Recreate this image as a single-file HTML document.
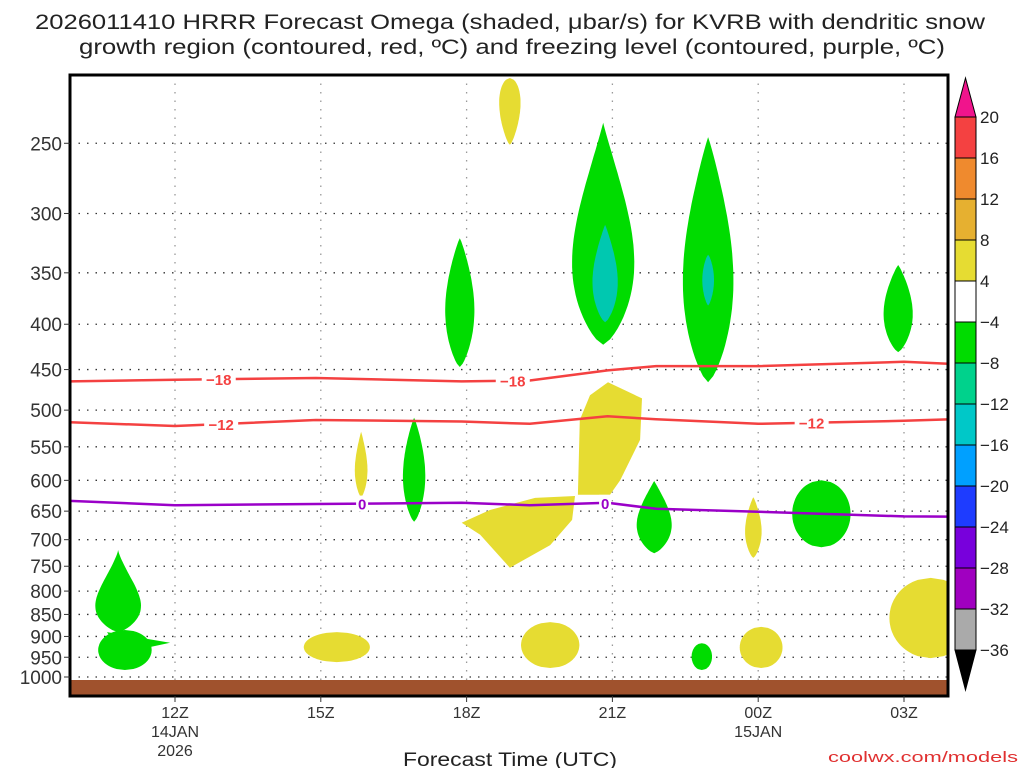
<!DOCTYPE html>
<html><head><meta charset="utf-8"><style>
body{margin:0;background:#fff;}
svg{display:block;font-family:"Liberation Sans",sans-serif;}
</style></head><body>
<svg id="chart" width="1024" height="768" viewBox="0 0 1024 768">
<text x="510" y="29" text-anchor="middle" font-size="21" fill="#222" textLength="950" lengthAdjust="spacingAndGlyphs">2026011410 HRRR Forecast Omega (shaded, μbar/s) for KVRB with dendritic snow</text>
<text x="512" y="54" text-anchor="middle" font-size="21" fill="#222" textLength="866" lengthAdjust="spacingAndGlyphs">growth region (contoured, red, ºC) and freezing level (contoured, purple, ºC)</text>
<g id="plot"></g>
<text x="510" y="766" text-anchor="middle" font-size="19" fill="#222" textLength="214" lengthAdjust="spacingAndGlyphs">Forecast Time (UTC)</text>
<text x="1018" y="762" text-anchor="end" font-size="15" fill="#e03030" textLength="190" lengthAdjust="spacingAndGlyphs">coolwx.com/models</text>
</svg>
<script>
const yTicks=[250,300,350,400,450,500,550,600,650,700,750,800,850,900,950,1000];
const xTickHours=[12,15,18,21,24,27];
const xTickLabels=["12Z","15Z","18Z","21Z","00Z","03Z"];
const contourHours=[9.84,12,14.9,17.9,19.3,20.9,21.9,24,27,28.98];
const c18=[464,462,460,464,463,451,446,446,441,446];
const c12=[516,521,513,515,518,508,512,518,514,510];
const c0=[633,640,638,636,640,636,646,651,659,660];
const cbLevels=[20,16,12,8,4,-4,-8,-12,-16,-20,-24,-28,-32,-36];
const cbColors=["#f44141","#ef8a2e","#e6b030","#e6dc32","#ffffff","#00dc00","#00d28c","#00c8c8","#00a0ff","#1e3cff","#7800dc","#a000c0","#aaaaaa"];
// blobs: [centerHour, pTop, pBottom, halfWidthHours, color, shape(0=ellipse, k=teardrop skew)]
const blobs=[
[10.83,719,890,0.47,"#00dc00",1.8],[10.97,885,982,0.55,"#00dc00",0],
[18.89,211,251,0.22,"#e6dc32",0.7],[17.86,320,447,0.3,"#00dc00",1.2],
[20.81,237,422,0.64,"#00dc00",1.5],[20.85,309,398,0.26,"#00c8b0",1.3],
[22.97,246,465,0.52,"#00dc00",1.3],[22.97,334,381,0.12,"#00c8b0",1.0],
[26.88,343,430,0.3,"#00dc00",1.2],[15.83,529,627,0.13,"#e6dc32",1.3],
[16.92,510,668,0.23,"#00dc00",1.2],[21.86,601,725,0.36,"#00dc00",1.4],
[23.9,627,734,0.17,"#e6dc32",1.2],[25.3,600,714,0.6,"#00dc00",0],
[27.55,773,952,0.85,"#e6dc32",0],[15.33,890,962,0.68,"#e6dc32",0],
[19.72,867,977,0.6,"#e6dc32",0],[22.84,916,982,0.21,"#00dc00",0],
[24.06,878,977,0.44,"#e6dc32",0]];
const polyH=[20.91,21.61,21.57,21.16,20.95,20.29,20.33,20.54];
const polyHp=[465,485,540,600,623,623,513,481];
const polyI=[20.23,20.17,19.72,18.89,18.28,17.9,18.48,19.41];
const polyIp=[625,665,710,753,691,670,648,628];
const spikeH=[10.6,11.9,10.9];
const spikeP=[890,915,940];

const L=70,R=948,T=75,B=696;
const X=h=>175+(h-12)*48.6;
const Y=p=>677-385*Math.log(1000/p);
const NS="http://www.w3.org/2000/svg";
const g=document.getElementById('plot');
const svg=document.getElementById('chart');
function mk(t,a,parent){const e=document.createElementNS(NS,t);for(const k in a)e.setAttribute(k,a[k]);(parent||g).appendChild(e);return e;}
const clip=mk('clipPath',{id:'pc'},svg);mk('rect',{x:L,y:T,width:R-L,height:B-T},clip);
const inner=mk('g',{'clip-path':'url(#pc)'});
yTicks.forEach(p=>{const l=mk('line',{x1:L,x2:R,y1:Y(p),y2:Y(p),stroke:'#333','stroke-width':1.3,'stroke-dasharray':'1.5 7'},inner);
});
xTickHours.forEach(h=>{const l=mk('line',{x1:X(h),x2:X(h),y1:T,y2:B,stroke:'#999','stroke-width':1.3,'stroke-dasharray':'1.5 7'},inner);
});
blobs.forEach(b=>{const cx=X(b[0]),y1=Y(b[1]),y2=Y(b[2]),hw=b[3]*48.6,k=b[5];const N=40;let right=[],left=[];
for(let i=0;i<=N;i++){const s=i/N;let w;if(k===0){w=hw*2*Math.sqrt(s*(1-s));}else{w=hw*Math.pow(Math.sin(Math.PI*Math.pow(s,k)),0.7);}
const y=y1+(y2-y1)*s;right.push([cx+w,y]);left.push([cx-w,y]);}
const pts=right.concat(left.reverse());const d=pts.map((q,i)=>(i?'L':'M')+q[0].toFixed(1)+','+q[1].toFixed(1)).join('')+'Z';
const e=mk('path',{d:d,fill:b[4]},inner);
});
function poly(hs,ps,col,name){const pts=hs.map((h,i)=>X(h).toFixed(1)+','+Y(ps[i]).toFixed(1)).join(' ');const e=mk('polygon',{points:pts,fill:col},inner);
}
poly(polyH,polyHp,'#e6dc32','omega-region-21z');
poly(polyI,polyIp,'#e6dc32','omega-region-19z');
poly(spikeH,spikeP,'#00dc00','omega-spike-11z');
function line(arr,col,name){const d=arr.map((p,i)=>(i?'L':'M')+X(contourHours[i]).toFixed(1)+','+Y(p).toFixed(1)).join('');
const e=mk('path',{d:d,fill:'none',stroke:col,'stroke-width':2.5,'stroke-linejoin':'round'},inner);}
line(c18,'#f44141','contour-minus18');line(c12,'#f44141','contour-minus12');line(c0,'#9a00c8','freezing-level-0');
function interp(arr,h){for(let i=0;i<contourHours.length-1;i++){if(h>=contourHours[i]&&h<=contourHours[i+1]){const f=(h-contourHours[i])/(contourHours[i+1]-contourHours[i]);return arr[i]+f*(arr[i+1]-arr[i]);}}return arr[0];}
function clabel(arr,h,txt,col,name){const x=X(h),y=Y(interp(arr,h));
const r=mk('rect',{x:x-17,y:y-8,width:34,height:16,fill:'#fff'},inner);
const t=mk('text',{x:x,y:y+6,'text-anchor':'middle','font-size':15,'font-weight':'bold',fill:col},inner);t.textContent=txt;
}
clabel(c18,12.9,'−18','#f44141','label-minus18');clabel(c18,18.95,'−18','#f44141','label-minus18');
clabel(c12,12.95,'−12','#f44141','label-minus12');clabel(c12,25.1,'−12','#f44141','label-minus12');
const lz=[15.85,20.85];lz.forEach(h=>{const x=X(h),y=Y(interp(c0,h));const r=mk('rect',{x:x-6,y:y-8,width:12,height:16,fill:'#fff'},inner);

const t=mk('text',{x:x,y:y+6,'text-anchor':'middle','font-size':15,'font-weight':'bold',fill:'#9a00c8'},inner);t.textContent='0';
});
const gr=mk('rect',{x:L,y:680,width:R-L,height:B-680,fill:'#a0522d'},inner);
const fr=mk('rect',{x:L,y:T,width:R-L,height:B-T,fill:'none',stroke:'#000','stroke-width':3});
yTicks.forEach(p=>{const y=Y(p);mk('line',{x1:L-6,x2:L,y1:y,y2:y,stroke:'#333','stroke-width':1});
const t=mk('text',{x:L-8,y:y+7,'text-anchor':'end','font-size':19,fill:'#333'});t.textContent=p;
});
xTickHours.forEach((h,i)=>{const x=X(h);mk('line',{x1:x,x2:x,y1:B,y2:B+6,stroke:'#333','stroke-width':1});
const t=mk('text',{x:x,y:B+22,'text-anchor':'middle','font-size':16,fill:'#333'});t.textContent=xTickLabels[i];
});
[[12,'14JAN',1],[12,'2026',2],[24,'15JAN',1]].forEach(a=>{const t=mk('text',{x:X(a[0]),y:B+22+a[2]*19,'text-anchor':'middle','font-size':16,fill:'#333'});t.textContent=a[1];
});
const cbx=955,cbw=21,cbTop=117,cbBot=650,step=(cbBot-cbTop)/cbColors.length;
cbColors.forEach((c,i)=>{const r=mk('rect',{x:cbx,y:cbTop+i*step,width:cbw,height:step,fill:c,stroke:'#000','stroke-width':1});
});
const tu=mk('polygon',{points:`${cbx},${cbTop} ${cbx+cbw},${cbTop} ${cbx+cbw/2},78`,fill:'#f0148c',stroke:'#000'});
const td=mk('polygon',{points:`${cbx},${cbBot} ${cbx+cbw},${cbBot} ${cbx+cbw/2},690`,fill:'#000',stroke:'#000'});
cbLevels.forEach((v,i)=>{const t=mk('text',{x:980,y:cbTop+i*step+6,'font-size':17,fill:'#222'});t.textContent=v<0?'−'+(-v):String(v);
});
</script>
</body></html>
